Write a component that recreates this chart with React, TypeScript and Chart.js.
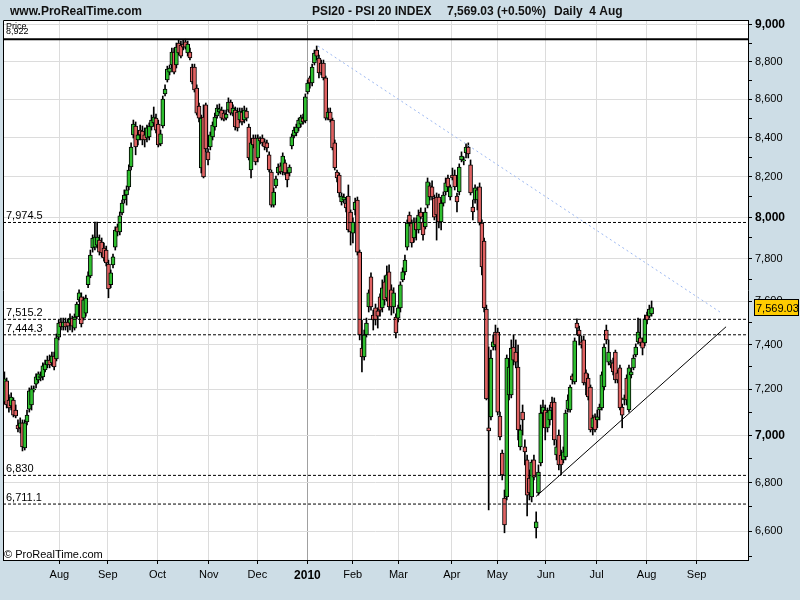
import React, { useEffect, useRef } from 'react';
import { Chart, registerables } from 'chart.js';

Chart.register(...registerables);

const FONT = '"Liberation Sans", Arial, Helvetica, sans-serif';

// trading-day index of the first candle (0 = 1 Jul 2009)
const firstDay = -1;

const opens = [
  7144, 7237, 7153, 7127, 7153, 7109, 7044, 7032, 7053, 6946,
  7057, 7113, 7131, 7197, 7223, 7241, 7250, 7255, 7286, 7308,
  7330, 7317, 7348, 7335, 7434, 7503, 7480, 7503, 7503, 7498,
  7521, 7475, 7526, 7605, 7619, 7521, 7544, 7676, 7718, 7851,
  7855, 7865, 7889, 7879, 7851, 7841, 7774, 7676, 7770, 7855,
  7953, 7928, 8021, 8085, 8110, 8150, 8250, 8414, 8460, 8388,
  8439, 8434, 8414, 8398, 8404, 8455, 8476, 8501, 8470, 8368,
  8460, 8628, 8702, 8744, 8782, 8852, 8782, 8901, 8890, 8896,
  8907, 8847, 8852, 8771, 8771, 8659, 8564, 8245, 8506, 8570,
  8327, 8352, 8404, 8455, 8512, 8533, 8543, 8527, 8501, 8543,
  8585, 8527, 8543, 8533, 8491, 8533, 8491, 8538, 8455, 8235,
  8398, 8398, 8296, 8398, 8398, 8378, 8373, 8312, 8225, 8060,
  8155, 8220, 8256, 8225, 8271, 8220, 8220, 8357, 8409, 8424,
  8450, 8470, 8501, 8486, 8638, 8713, 8686, 8793, 8863, 8820,
  8793, 8793, 8713, 8501, 8533, 8491, 8373, 8225, 8210, 8075,
  8085, 8070, 8105, 8026, 7923, 8036, 8085, 7831, 7384, 7344,
  7444, 7572, 7713, 7535, 7568, 7554, 7619, 7568, 7690, 7614,
  7737, 7652, 7572, 7526, 7521, 7568, 7699, 7737, 7855, 8011,
  7972, 7899, 7977, 7938, 8026, 7977, 7953, 8060, 8155, 8150,
  8095, 8100, 8100, 7977, 8070, 8125, 8195, 8100, 8210, 8210,
  8105, 8125, 8286, 8281, 8322, 8352, 8261, 8050, 8085, 8085,
  8150, 7972, 7884, 7563, 7032, 7079, 7389, 7457, 7457, 7083,
  6924, 6736, 6740, 7175, 7175, 7389, 7366, 7299, 6950, 7100,
  6950, 6895, 6819, 6740, 6895, 6614, 6757, 6882, 7096, 7109,
  7032, 7066, 7144, 7144, 6916, 7001, 6916, 6895, 6908, 7113,
  7109, 7259, 7232, 7498, 7466, 7412, 7421, 7273, 7250, 7210,
  7032, 7079, 7066, 7109, 7118, 7210, 7466, 7321, 7308, 7317,
  7366, 7273, 7295, 7122, 7153, 7250, 7109, 7264, 7295, 7353,
  7412, 7430, 7412, 7407, 7535, 7530, 7540,
];

const highs = [
  7277, 7250, 7175, 7184, 7162, 7131, 7066, 7075, 7066, 7066,
  7109, 7206, 7215, 7215, 7268, 7277, 7277, 7317, 7330, 7348,
  7353, 7366, 7366, 7448, 7512, 7521, 7521, 7521, 7517, 7540,
  7530, 7540, 7595, 7652, 7638, 7619, 7628, 7737, 7841, 7914,
  7977, 7977, 7914, 7899, 7875, 7860, 7793, 7746, 7822, 7953,
  7967, 8026, 8085, 8135, 8155, 8261, 8373, 8491, 8481, 8429,
  8465, 8460, 8450, 8465, 8476, 8517, 8559, 8522, 8491, 8439,
  8617, 8676, 8776, 8782, 8874, 8874, 8901, 8918, 8912, 8918,
  8922, 8912, 8874, 8787, 8787, 8676, 8580, 8517, 8570, 8580,
  8342, 8429, 8481, 8527, 8570, 8575, 8559, 8543, 8543, 8607,
  8596, 8570, 8559, 8554, 8554, 8554, 8564, 8554, 8470, 8388,
  8414, 8414, 8414, 8404, 8414, 8393, 8388, 8327, 8235, 8145,
  8205, 8266, 8271, 8322, 8286, 8235, 8261, 8419, 8455, 8470,
  8501, 8517, 8522, 8628, 8702, 8723, 8787, 8863, 8885, 8836,
  8809, 8809, 8723, 8554, 8554, 8501, 8388, 8235, 8220, 8120,
  8115, 8085, 8160, 8036, 7997, 8095, 8100, 7841, 7512, 7466,
  7521, 7652, 7732, 7558, 7586, 7568, 7633, 7699, 7718, 7765,
  7770, 7676, 7662, 7540, 7581, 7690, 7756, 7817, 7987, 8026,
  7987, 7997, 7997, 8036, 8046, 7997, 8046, 8195, 8170, 8180,
  8110, 8120, 8115, 8085, 8125, 8195, 8210, 8160, 8245, 8235,
  8120, 8266, 8327, 8301, 8368, 8373, 8286, 8085, 8160, 8150,
  8170, 7987, 7899, 7581, 7389, 7375, 7444, 7489, 7475, 7100,
  6937, 6769, 7353, 7330, 7421, 7444, 7421, 7398, 7044, 7131,
  6980, 6916, 6853, 6895, 6916, 6679, 6874, 7131, 7153, 7131,
  7118, 7131, 7166, 7162, 6980, 7023, 6937, 6950, 7109, 7175,
  7219, 7268, 7430, 7517, 7484, 7439, 7439, 7286, 7268, 7219,
  7087, 7092, 7109, 7135, 7277, 7403, 7489, 7421, 7330, 7339,
  7375, 7286, 7308, 7135, 7175, 7264, 7308, 7295, 7353, 7403,
  7521, 7517, 7430, 7535, 7549, 7581, 7600,
];

const lows = [
  7135, 7118, 7100, 7109, 7079, 7075, 7014, 7010, 6933, 6937,
  7044, 7100, 7109, 7188, 7206, 7228, 7237, 7241, 7277, 7295,
  7295, 7304, 7286, 7326, 7421, 7466, 7466, 7466, 7457, 7466,
  7457, 7466, 7517, 7596, 7480, 7512, 7530, 7662, 7709, 7831,
  7841, 7851, 7817, 7807, 7788, 7765, 7615, 7662, 7756, 7841,
  7909, 7914, 8011, 8070, 8060, 8135, 8235, 8398, 8312, 8363,
  8388, 8363, 8352, 8378, 8388, 8439, 8460, 8424, 8352, 8358,
  8450, 8617, 8691, 8729, 8766, 8734, 8766, 8836, 8820, 8863,
  8868, 8830, 8809, 8681, 8638, 8517, 8481, 8220, 8195, 8327,
  8261, 8337, 8388, 8439, 8501, 8527, 8491, 8486, 8491, 8533,
  8517, 8512, 8439, 8434, 8476, 8465, 8476, 8486, 8286, 8195,
  8347, 8261, 8276, 8368, 8358, 8337, 8327, 8225, 8050, 8050,
  8145, 8210, 8215, 8210, 8210, 8150, 8205, 8342, 8398, 8409,
  8434, 8455, 8470, 8476, 8628, 8659, 8670, 8782, 8809, 8713,
  8729, 8702, 8491, 8491, 8481, 8337, 8235, 8175, 8100, 8060,
  8070, 8026, 7928, 7865, 7875, 8011, 7817, 7421, 7277, 7330,
  7434, 7549, 7558, 7466, 7489, 7475, 7530, 7549, 7581, 7600,
  7558, 7535, 7544, 7430, 7503, 7549, 7690, 7723, 7841, 7957,
  7855, 7879, 7889, 7923, 7992, 7889, 7943, 8046, 8085, 8085,
  7987, 7889, 7948, 7938, 8055, 8110, 8135, 8085, 8185, 8135,
  8026, 8110, 8276, 8261, 8296, 8296, 8110, 7987, 8070, 8036,
  7962, 7723, 7549, 7153, 6687, 7066, 7375, 7375, 7087, 6980,
  6811, 6594, 6728, 7153, 7162, 7308, 7295, 6980, 6937, 7001,
  6874, 6662, 6728, 6720, 6811, 6573, 6748, 6870, 7083, 6980,
  7014, 7044, 7100, 6958, 6895, 6853, 6832, 6882, 6895, 7100,
  7100, 7223, 7223, 7444, 7398, 7384, 7219, 7175, 7153, 7014,
  7001, 7014, 7032, 7066, 7109, 7197, 7403, 7308, 7295, 7264,
  7228, 7228, 7109, 7032, 7131, 7131, 7100, 7250, 7286, 7344,
  7403, 7394, 7353, 7394, 7494, 7521, 7530,
];

const closes = [
  7246, 7131, 7118, 7166, 7087, 7083, 7027, 7053, 6950, 7053,
  7087, 7193, 7202, 7202, 7255, 7268, 7259, 7304, 7313, 7330,
  7308, 7348, 7299, 7430, 7498, 7480, 7503, 7480, 7484, 7521,
  7484, 7526, 7586, 7638, 7494, 7605, 7614, 7718, 7817, 7899,
  7904, 7904, 7831, 7827, 7803, 7779, 7657, 7732, 7808, 7938,
  7928, 8007, 8070, 8110, 8135, 8235, 8352, 8470, 8352, 8414,
  8414, 8388, 8388, 8450, 8460, 8491, 8506, 8439, 8363, 8419,
  8601, 8654, 8760, 8766, 8852, 8744, 8879, 8847, 8830, 8879,
  8879, 8896, 8820, 8691, 8649, 8527, 8501, 8501, 8200, 8342,
  8286, 8414, 8465, 8506, 8554, 8549, 8501, 8496, 8522, 8585,
  8527, 8554, 8455, 8450, 8538, 8481, 8543, 8501, 8296, 8373,
  8363, 8276, 8398, 8383, 8373, 8352, 8347, 8235, 8060, 8125,
  8190, 8250, 8225, 8306, 8220, 8185, 8250, 8404, 8439, 8455,
  8491, 8506, 8481, 8612, 8686, 8686, 8771, 8847, 8830, 8739,
  8739, 8713, 8501, 8533, 8491, 8347, 8245, 8195, 8120, 8105,
  8100, 8046, 7938, 7928, 7977, 8075, 7831, 7444, 7344, 7444,
  7498, 7638, 7572, 7512, 7512, 7530, 7558, 7662, 7605, 7723,
  7572, 7572, 7638, 7453, 7568, 7676, 7737, 7793, 7972, 7972,
  7875, 7977, 7938, 8011, 8001, 7914, 8026, 8175, 8100, 8100,
  8001, 8011, 7977, 8070, 8110, 8170, 8150, 8150, 8195, 8150,
  8075, 8250, 8306, 8286, 8352, 8317, 8120, 8026, 8145, 8135,
  7972, 7760, 7568, 7157, 7019, 7339, 7412, 7398, 7100, 6993,
  6832, 6626, 7339, 7299, 7384, 7330, 7321, 7023, 7023, 7066,
  6929, 6748, 6757, 6886, 6823, 6638, 6844, 7096, 7122, 7032,
  7100, 7109, 7118, 6980, 6950, 6874, 6874, 6929, 7096, 7153,
  7210, 7241, 7417, 7475, 7439, 7398, 7228, 7228, 7166, 7023,
  7075, 7023, 7079, 7122, 7264, 7389, 7421, 7366, 7317, 7277,
  7241, 7241, 7118, 7087, 7162, 7153, 7295, 7277, 7339, 7389,
  7457, 7407, 7384, 7517, 7512, 7563, 7569.03,
];

// x axis: month gridlines (trading-day index) and their labels
const monthTickPos = [23.3, 44.7, 66.7, 89.3, 110.8, 132.9, 152.9, 173.1, 196.7, 216.8, 238.3, 260.7, 282.8, 304.9];
const monthLabels = ['Aug', 'Sep', 'Oct', 'Nov', 'Dec', '2010', 'Feb', 'Mar', 'Apr', 'May', 'Jun', 'Jul', 'Aug', 'Sep'];
const yearTickIndex = 5;

// y axis (log scale) ticks every 100, labels every 200
const priceTicks = [
  6500, 6600, 6700, 6800, 6900, 7000, 7100, 7200, 7300, 7400, 7500, 7600, 7700,
  7800, 7900, 8000, 8100, 8200, 8300, 8400, 8500, 8600, 8700, 8800, 8900, 9000,
];

const xRange = [-1.61, 327.6];
const yRange = [6485, 9027.6];

// horizontal levels
const highLevel = 8922;
const highLevelLabel = '8,922';
const levelValues = [7974.5, 7515.2, 7444.3, 6830, 6711.1];
const levelLabels = ['7,974.5', '7,515.2', '7,444.3', '6,830', '6,711.1'];

// trend lines
const blueTrendX = [137.6, 315.2];
const blueTrendY = [8885, 7549];
const blackTrendX = [233.9, 317.9];
const blackTrendY = [6742, 7481];

const lastPrice = 7569.03;
const lastPriceLabel = '7,569.03';

const siteTitle = 'www.ProRealTime.com';
const titleParts = ['PSI20 - PSI 20 INDEX', '7,569.03 (+0.50%)', 'Daily  4 Aug'];
const titlePartX = [312, 447, 554];
const copyrightText = '\u00A9 ProRealTime.com';
const priceWord = 'Price';

const BG = '#cddde6';
const GRID = '#dcdcdc';
const GREEN = '#2fbf2f';
const RED = '#e06262';

const fmt = (v: number) => v.toLocaleString('en-US');

const decorPlugin = {
  id: 'decor',
  beforeDraw(chart: any) {
    const { ctx, chartArea: a } = chart;
    ctx.save();
    ctx.fillStyle = BG;
    ctx.fillRect(0, 0, chart.width, chart.height);
    ctx.fillStyle = '#ffffff';
    ctx.fillRect(a.left, a.top, a.right - a.left, a.bottom - a.top);
    ctx.restore();
  },
  afterDraw(chart: any) {
    const { ctx, chartArea: a, scales } = chart;
    const ys = scales.y;
    ctx.save();
    // frame (left + top)
    ctx.strokeStyle = '#000';
    ctx.lineWidth = 1;
    ctx.beginPath();
    ctx.moveTo(a.left + 0.5, a.bottom);
    ctx.lineTo(a.left + 0.5, a.top + 0.5);
    ctx.lineTo(a.right, a.top + 0.5);
    ctx.stroke();

    ctx.fillStyle = '#000';
    ctx.textAlign = 'left';
    ctx.textBaseline = 'alphabetic';

    // level labels
    ctx.font = `11px ${FONT}`;
    levelValues.forEach((v, k) => {
      ctx.fillText(levelLabels[k], a.left + 3, ys.getPixelForValue(v) - 3);
    });

    // Price / 8,922 tiny labels
    ctx.font = `9px ${FONT}`;
    ctx.fillText(priceWord, a.left + 3, a.top + 9);
    ctx.fillText(highLevelLabel, a.left + 3, a.top + 14);

    // copyright
    ctx.font = `11px ${FONT}`;
    ctx.fillText(copyrightText, a.left + 1, a.bottom - 2);

    // header
    ctx.font = `bold 12px ${FONT}`;
    ctx.fillStyle = '#111';
    ctx.fillText(siteTitle, 10, 15);
    titleParts.forEach((t, k) => ctx.fillText(t, titlePartX[k], 15));

    // last price box
    const py = ys.getPixelForValue(lastPrice);
    const bx = a.right + 6.5;
    ctx.fillStyle = '#ffcc00';
    ctx.fillRect(bx, Math.round(py) - 8.5, 44, 16);
    ctx.strokeStyle = '#000';
    ctx.strokeRect(bx, Math.round(py) - 8.5, 44, 16);
    ctx.fillStyle = '#000';
    ctx.font = `11px ${FONT}`;
    ctx.textBaseline = 'middle';
    ctx.fillText(lastPriceLabel, bx + 1.5, Math.round(py) + 0.5);
    ctx.restore();
  },
};

export default function App() {
  const canvasRef = useRef<HTMLCanvasElement | null>(null);

  useEffect(() => {
    const canvas = canvasRef.current;
    if (!canvas) return;

    const days = opens.map((_, k) => firstDay + k);
    const bodyColors = opens.map((o, k) => (closes[k] >= o ? GREEN : RED));

    const hLine = (v: number) => [
      { x: xRange[0], y: v },
      { x: xRange[1], y: v },
    ];

    const datasets: any[] = [
      {
        type: 'line',
        data: hLine(highLevel),
        borderColor: '#000',
        borderWidth: 2,
        pointRadius: 0,
        order: 0,
      },
      ...levelValues.map((v) => ({
        type: 'line',
        data: hLine(v),
        borderColor: '#000',
        borderWidth: 1,
        borderDash: [3, 2],
        pointRadius: 0,
        order: 0,
      })),
      {
        type: 'line',
        data: blueTrendX.map((x, k) => ({ x, y: blueTrendY[k] })),
        borderColor: '#9cb8f2',
        borderWidth: 1,
        borderDash: [2, 3],
        pointRadius: 0,
        order: 0,
      },
      {
        type: 'line',
        data: blackTrendX.map((x, k) => ({ x, y: blackTrendY[k] })),
        borderColor: '#000',
        borderWidth: 1,
        pointRadius: 0,
        order: 0,
      },
      {
        type: 'bar',
        data: days.map((d, k) => ({ x: d, y: [opens[k], closes[k]] })),
        backgroundColor: bodyColors,
        borderColor: '#000',
        borderWidth: 1,
        borderSkipped: false,
        barThickness: 4,
        minBarLength: 1,
        grouped: false,
        order: 1,
      },
      {
        type: 'bar',
        data: days.map((d, k) => ({ x: d, y: [lows[k], highs[k]] })),
        backgroundColor: '#000',
        borderWidth: 0,
        barThickness: 1,
        grouped: false,
        order: 2,
      },
    ];

    const chart = new Chart(canvas, {
      type: 'bar',
      data: { datasets },
      plugins: [decorPlugin],
      options: {
        responsive: false,
        devicePixelRatio: 1,
        animation: false,
        events: [],
        layout: { padding: { left: 3, top: 20, right: 0, bottom: 0 } },
        plugins: {
          legend: { display: false },
          tooltip: { enabled: false },
        },
        scales: {
          x: {
            type: 'linear',
            position: 'bottom',
            min: xRange[0],
            max: xRange[1],
            bounds: 'data',
            offset: false,
            afterFit: (s: any) => {
              s.height = 40;
            },
            afterBuildTicks: (s: any) => {
              s.ticks = monthTickPos.map((v) => ({ value: v }));
            },
            grid: {
              offset: false,
              color: (c: any) => (c.index === yearTickIndex ? '#a0a0a0' : GRID),
              tickColor: '#000',
              tickLength: 4,
              drawTicks: true,
            },
            border: { display: true, color: '#000', width: 1 },
            ticks: {
              autoSkip: false,
              maxRotation: 0,
              minRotation: 0,
              padding: 4,
              color: '#000',
              font: (c: any) =>
                c.index === yearTickIndex
                  ? { family: FONT, size: 12, weight: 'bold' }
                  : { family: FONT, size: 11 },
              callback: (_v: any, i: number) => monthLabels[i],
            },
          },
          y: {
            type: 'logarithmic',
            position: 'right',
            min: yRange[0],
            max: yRange[1],
            bounds: 'data',
            afterFit: (s: any) => {
              s.width = 52;
            },
            afterBuildTicks: (s: any) => {
              s.ticks = priceTicks.map((v) => ({ value: v }));
            },
            grid: {
              color: (c: any) => (c.tick && c.tick.value % 200 === 0 ? GRID : 'rgba(0,0,0,0)'),
              tickColor: '#000',
              tickLength: 4,
              drawTicks: true,
            },
            border: { display: true, color: '#000', width: 1 },
            ticks: {
              padding: 3,
              color: '#000',
              autoSkip: false,
              font: (c: any) =>
                c.tick && c.tick.value % 1000 === 0
                  ? { family: FONT, size: 12, weight: 'bold' }
                  : { family: FONT, size: 11 },
              callback: (v: any) => (Number(v) % 200 === 0 ? fmt(Number(v)) : ''),
            },
          },
        },
      } as any,
    });

    return () => {
      chart.destroy();
    };
  }, []);

  return (
    <div style={{ position: 'absolute', left: 0, top: 0, width: 800, height: 600 }}>
      <canvas ref={canvasRef} width={800} height={600} style={{ display: 'block', width: 800, height: 600 }} />
    </div>
  );
}
